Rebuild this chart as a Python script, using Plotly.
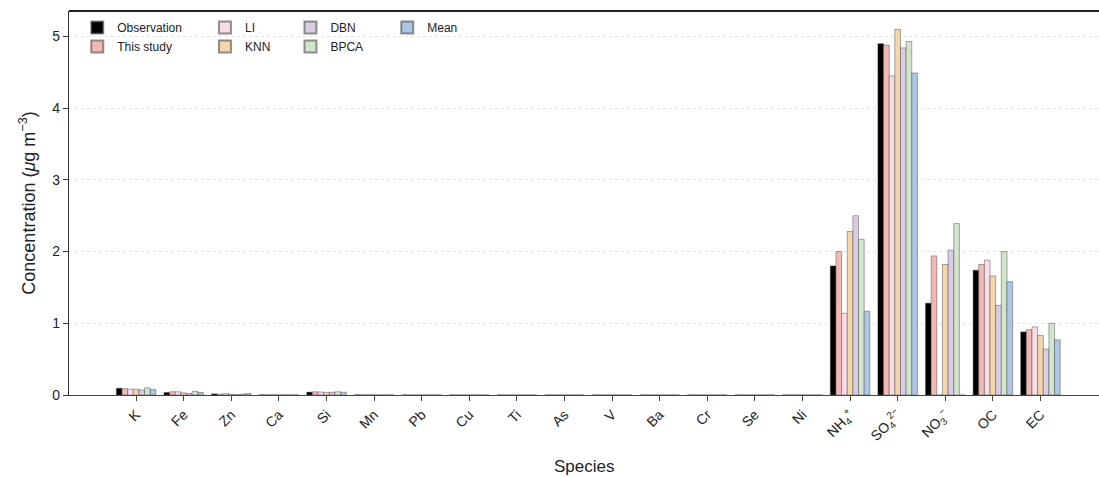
import plotly.graph_objects as go

species = ["K", "Fe", "Zn", "Ca", "Si", "Mn", "Pb", "Cu", "Ti", "As", "V", "Ba", "Cr", "Se", "Ni",
           "NH4", "SO4", "NO3", "OC", "EC"]
tick_labels = ["K", "Fe", "Zn", "Ca", "Si", "Mn", "Pb", "Cu", "Ti", "As", "V", "Ba", "Cr", "Se", "Ni",
               "NH<sub>4</sub><sup>+</sup>", "SO<sub>4</sub><sup>2−</sup>", "NO<sub>3</sub><sup>−</sup>", "OC", "EC"]

observation = [0.093, 0.035, 0.015, 0.002, 0.040, 0.002, 0.001, 0.001, 0.001, 0.001, 0.001, 0.001, 0.001, 0.001, 0.001,
               1.80, 4.90, 1.28, 1.74, 0.88]
this_study = [0.088, 0.045, 0.010, 0.002, 0.045, 0.002, 0.001, 0.001, 0.001, 0.001, 0.001, 0.001, 0.001, 0.001, 0.001,
              2.00, 4.88, 1.94, 1.82, 0.91]
li = [0.082, 0.045, 0.020, 0.002, 0.042, 0.002, 0.001, 0.001, 0.001, 0.001, 0.001, 0.001, 0.001, 0.001, 0.001,
      1.14, 4.45, 0.0, 1.88, 0.95]
knn = [0.080, 0.030, 0.010, 0.002, 0.037, 0.002, 0.001, 0.001, 0.001, 0.001, 0.001, 0.001, 0.001, 0.001, 0.001,
       2.28, 5.10, 1.82, 1.66, 0.83]
dbn = [0.070, 0.020, 0.005, 0.002, 0.038, 0.002, 0.001, 0.001, 0.001, 0.001, 0.001, 0.001, 0.001, 0.001, 0.001,
       2.50, 4.84, 2.02, 1.25, 0.64]
bpca = [0.100, 0.050, 0.012, 0.002, 0.045, 0.002, 0.001, 0.001, 0.001, 0.001, 0.001, 0.001, 0.001, 0.001, 0.001,
        2.17, 4.93, 2.39, 2.00, 1.00]
mean = [0.075, 0.035, 0.020, 0.002, 0.038, 0.002, 0.001, 0.001, 0.001, 0.001, 0.001, 0.001, 0.001, 0.001, 0.001,
        1.17, 4.49, 0.0, 1.58, 0.77]

series = [
    ("Observation", observation, "#000000", "legend"),
    ("This study", this_study, "#F2B8B6", "legend"),
    ("LI", li, "#F8DCE8", "legend2"),
    ("KNN", knn, "#F4D6AA", "legend2"),
    ("DBN", dbn, "#DACCE2", "legend3"),
    ("BPCA", bpca, "#D0E6CA", "legend3"),
    ("Mean", mean, "#AEC6E6", "legend4"),
]

fig = go.Figure()
for name, vals, color, lg in series:
    fig.add_trace(go.Bar(
        x=species, y=vals, name=name, legend=lg,
        marker=dict(color=color, line=dict(color="rgba(60,60,60,0.55)", width=0.8)),
    ))

font_family = "Liberation Sans, Arial, sans-serif"
legend_common = dict(
    bgcolor="rgba(0,0,0,0)", font=dict(family=font_family, size=12, color="#222"),
    orientation="v", xanchor="left", yanchor="top", y=0.995, tracegroupgap=0,
    itemsizing="constant",
)

fig.update_layout(
    width=1099, height=477,
    margin=dict(l=69, r=0, t=11, b=82, autoexpand=False),
    paper_bgcolor="white", plot_bgcolor="white",
    barmode="group", bargap=0.17, bargroupgap=0,
    font=dict(family=font_family, size=13, color="#222"),
    legend=dict(x=0.008, **legend_common),
    legend2=dict(x=0.132, **legend_common),
    legend3=dict(x=0.215, **legend_common),
    legend4=dict(x=0.309, **legend_common),
    xaxis=dict(
        type="category", range=[-1.41, 20.23], automargin=False,
        tickmode="array", tickvals=species, ticktext=tick_labels, tickangle=-45,
        ticks="outside", ticklen=5, tickcolor="#444", tickwidth=1,
        showline=True, linecolor="#444", linewidth=1,
        showgrid=False,
        tickfont=dict(size=14, color="#222"),
    ),
    yaxis=dict(
        range=[0, 5.355], tickvals=[0, 1, 2, 3, 4, 5], automargin=False,
        ticks="outside", ticklen=5, tickcolor="#333", tickwidth=1,
        showline=True, linecolor="#333", linewidth=1.2,
        showgrid=True, gridcolor="#E3E3E3", griddash="dot", gridwidth=1,
        zeroline=False,
        tickfont=dict(size=14, color="#222"),
        title=dict(text="Concentration (<i>μ</i>g m<sup>−3</sup>)", font=dict(size=18, color="#222"), standoff=12),
    ),
    annotations=[dict(text="Species", xref="paper", yref="paper", x=0.5, y=-0.185,
                      xanchor="center", yanchor="middle", showarrow=False,
                      font=dict(size=17, color="#222"))],
)

fig.add_shape(type="line", xref="paper", yref="paper", x0=0, x1=1, y0=1, y1=1,
              line=dict(color="#222", width=2))

fig.write_html("out.html", config={"displayModeBar": False},
               post_script="document.body.style.margin='0';")
